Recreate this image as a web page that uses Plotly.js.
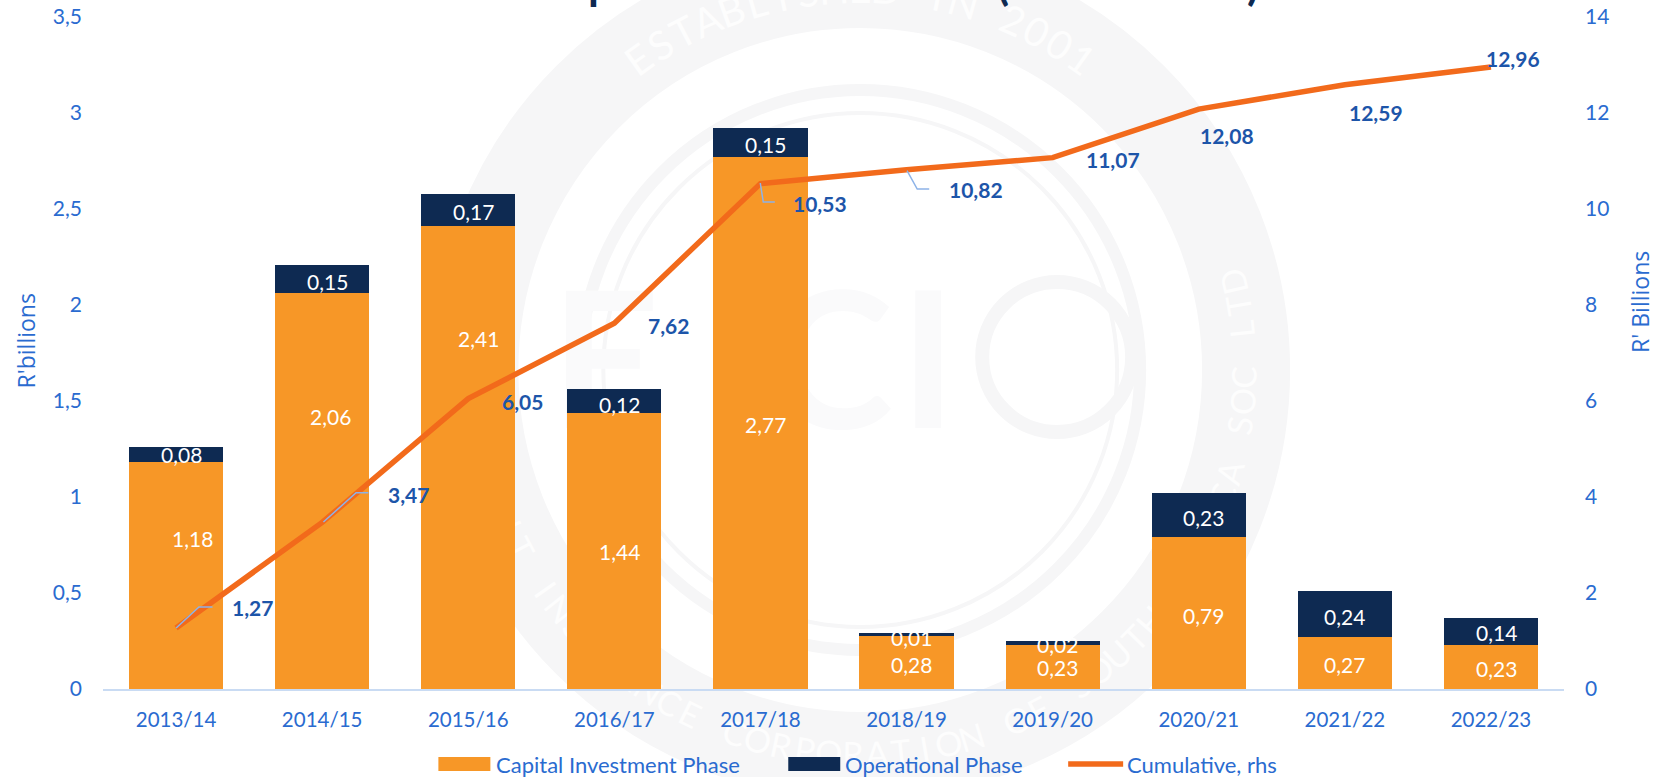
<!DOCTYPE html>
<html>
<head>
<meta charset="utf-8">
<script src="https://cdn.plot.ly/plotly-3.0.1.min.js"></script>
<style>html,body{margin:0;padding:0;background:#fff;overflow:hidden}</style>
</head>
<body>
<div id="chart" style="width:1659px;height:777px"></div>
<script>
// ---------- data ----------
const categories = ['2013/14','2014/15','2015/16','2016/17','2017/18','2018/19','2019/20','2020/21','2021/22','2022/23'];
const capitalPhase = [1.18,2.06,2.41,1.44,2.77,0.28,0.23,0.79,0.27,0.23];
const operationalPhase = [0.08,0.15,0.17,0.12,0.15,0.01,0.02,0.23,0.24,0.14];
const cumulative = [1.27,3.47,6.05,7.62,10.53,10.82,11.07,12.08,12.59,12.96];
const leftTicks = [0,0.5,1,1.5,2,2.5,3,3.5];
const rightTicks = [0,2,4,6,8,10,12,14];

// ---------- label nudges (pixels, relative to the data anchor) ----------
const capDX = [16,8,10,5,5,5,5,5,0,6];
const capDY = [37,75,119,-1,-1,-2,-1,-2,-1,-2];
const opDX  = [5,5,5,5,5,5,5,5,0,6];
const opDY  = [0,-2,-2,-3,-2,-3,-2,-2,-2,-1];
const cumDX = [76,86,54,54,60,69,60,28,31,22];
const cumDY = [21,28,-3,-2,-20,-20,-2,-26,-28,8];

// ---------- page geometry and colours ----------
const W=1659,H=777,L=102.5,R=95,T=17,B=88;
const xp=px=>(px-L)/(W-L-R), yp=py=>1-(py-T)/(H-T-B);
const ORANGE='#F79727',NAVY='#0E2A52',LINE='#F26A1B',BLUE='#2A6BD0',DARKBLUE='#1D55A9',LEAD='#8DB3E8',FAINT='#F6F6F7';
const FONT='Lato, sans-serif';
const fmt=v=>String(v).replace('.',',');

const shapes=[],annotations=[];

// ---------- faint seal behind the chart ----------
const CX=860,CY=370;
function ring(cx,cy,r,w){shapes.push({type:'circle',xref:'paper',yref:'paper',layer:'below',
  x0:xp(cx-r),x1:xp(cx+r),y0:yp(cy+r),y1:yp(cy-r),line:{color:FAINT,width:w},fillcolor:'rgba(0,0,0,0)'});}
ring(CX,CY,386,88); ring(CX,CY,280,12); ring(CX,CY,257,4); ring(1057,357,75,14);
function faintText(t,px,py,size,angle,color,weight){
  shapes.push({type:'rect',xref:'paper',yref:'paper',layer:'below',
    x0:xp(px-1),x1:xp(px+1),y0:yp(py+1),y1:yp(py-1),line:{width:0},fillcolor:'rgba(0,0,0,0)',
    label:{text:t,textangle:angle,textposition:'middle center',xanchor:'center',yanchor:'middle',
      font:{family:FONT,size:size,color:color,weight:weight||400}}});
}
const sealTop='ESTABLISHED IN 2001', sealBottom='EXPORT CREDIT INSURANCE CORPORATION OF SOUTH AFRICA SOC LTD';
[...sealTop].forEach((c,i)=>{ if(c===' ')return;
  const d=-35.5+i*3.94,a=d*Math.PI/180;
  faintText(c,CX+383*Math.sin(a),CY-383*Math.cos(a),40,d,'#FDFDFD');});
[...sealBottom].forEach((c,i)=>{ if(c===' ')return;
  const d=-105.5+i*3.6,a=d*Math.PI/180;
  faintText(c,CX+383*Math.sin(a),CY+383*Math.cos(a),34,-d,'#FDFDFD');});
[['E',605],['C',830],['I',928]].forEach(([c,x])=>faintText(c,x,352,190,0,'#FAFAFB',700));

// ---------- leader lines ----------
[[[175.7,628],[198.5,607],[212,607]],
 [[323,522],[355.7,492.7],[368,492.7]],
 [[760,183],[763,202],[774.5,202]],
 [[906.8,170.7],[917,189],[929,189]]].forEach(p=>{
  shapes.push({type:'path',xref:'paper',yref:'paper',layer:'above',
    path:p.map((q,i)=>(i?'L':'M')+xp(q[0])+','+yp(q[1])).join(' '),line:{color:LEAD,width:1.5}});
});

// ---------- value labels ----------
categories.forEach((c,i)=>{
  annotations.push({x:i,y:capitalPhase[i]/2,xref:'x',yref:'y',text:fmt(capitalPhase[i]),showarrow:false,
    xanchor:'center',yanchor:'middle',xshift:capDX[i],yshift:capDY[i],font:{family:FONT,size:21,color:'#FFFFFF'}});
  annotations.push({x:i,y:capitalPhase[i]+operationalPhase[i]/2,xref:'x',yref:'y',text:fmt(operationalPhase[i]),showarrow:false,
    xanchor:'center',yanchor:'middle',xshift:opDX[i],yshift:opDY[i],font:{family:FONT,size:21,color:'#FFFFFF'}});
  annotations.push({x:i,y:cumulative[i],xref:'x',yref:'y2',text:'<b>'+fmt(cumulative[i])+'</b>',showarrow:false,
    xanchor:'center',yanchor:'middle',xshift:cumDX[i],yshift:cumDY[i],font:{family:FONT,size:21,color:DARKBLUE}});
});

// ---------- axis titles ----------
annotations.push({xref:'paper',yref:'paper',x:xp(25),y:yp(341),xanchor:'center',yanchor:'middle',text:"R'billions",textangle:-90,showarrow:false,
  font:{family:'Open Sans, sans-serif',size:23,color:BLUE}});
annotations.push({xref:'paper',yref:'paper',x:xp(1640),y:yp(302),xanchor:'center',yanchor:'middle',text:"R' Billions",textangle:-90,showarrow:false,
  font:{family:'Open Sans, sans-serif',size:23,color:BLUE}});

// ---------- title remnants cropped by the top of the page ----------
[['p',600],['(',1003],[')',1253]].forEach(([t,x])=>{
  annotations.push({xref:'paper',yref:'paper',x:xp(x),y:yp(11),xanchor:'center',yanchor:'bottom',text:'<b>'+t+'</b>',showarrow:false,
    font:{family:FONT,size:44,color:NAVY}});
});

// ---------- key ----------
function keyText(t,x){annotations.push({xref:'paper',yref:'paper',x:xp(x),y:yp(764),xanchor:'left',yanchor:'middle',text:t,showarrow:false,
  font:{family:FONT,size:22,color:BLUE}});}
shapes.push({type:'rect',xref:'paper',yref:'paper',x0:xp(438),x1:xp(490),y0:yp(771),y1:yp(757),fillcolor:ORANGE,line:{width:0}});
shapes.push({type:'rect',xref:'paper',yref:'paper',x0:xp(788),x1:xp(840),y0:yp(771),y1:yp(757),fillcolor:NAVY,line:{width:0}});
shapes.push({type:'line',xref:'paper',yref:'paper',x0:xp(1068),x1:xp(1123),y0:yp(764),y1:yp(764),line:{color:LINE,width:5.5}});
keyText('Capital Investment Phase',494);
keyText('Operational Phase',843);
keyText('Cumulative, rhs',1125);

// ---------- traces ----------
const traces=[
  {type:'bar',name:'Capital Investment Phase',x:categories,y:capitalPhase,marker:{color:ORANGE},hoverinfo:'x+y+name'},
  {type:'bar',name:'Operational Phase',x:categories,y:operationalPhase,marker:{color:NAVY},hoverinfo:'x+y+name'},
  {type:'scatter',mode:'lines',name:'Cumulative, rhs',x:categories,y:cumulative,yaxis:'y2',
    line:{color:LINE,width:5.5,shape:'linear'},hoverinfo:'x+y+name'}
];

const layout={
  width:W,height:H,autosize:false,showlegend:false,
  separators:', ',barmode:'stack',bargap:0.355,
  margin:{l:L,r:R,t:T,b:B,pad:0},
  paper_bgcolor:'#FFFFFF',plot_bgcolor:'rgba(0,0,0,0)',
  font:{family:FONT,size:20,color:BLUE},
  xaxis:{type:'category',categoryorder:'array',categoryarray:categories,range:[-0.5,9.5],
    showgrid:false,zeroline:false,showline:true,linecolor:'#C9DBF3',linewidth:2,ticks:'',
    tickfont:{family:FONT,size:20.5,color:BLUE},ticklabelstandoff:11},
  yaxis:{range:[0,3.5],tickvals:leftTicks,showgrid:false,zeroline:false,showline:false,ticks:'',
    tickfont:{family:FONT,size:21,color:BLUE},ticklabelstandoff:20},
  yaxis2:{range:[0,14],tickvals:rightTicks,overlaying:'y',side:'right',showgrid:false,zeroline:false,showline:false,ticks:'',
    tickfont:{family:FONT,size:21,color:BLUE},ticklabelstandoff:20},
  shapes:shapes,annotations:annotations
};
Plotly.newPlot('chart',traces,layout,{displayModeBar:false,responsive:false});
</script>
</body>
</html>
